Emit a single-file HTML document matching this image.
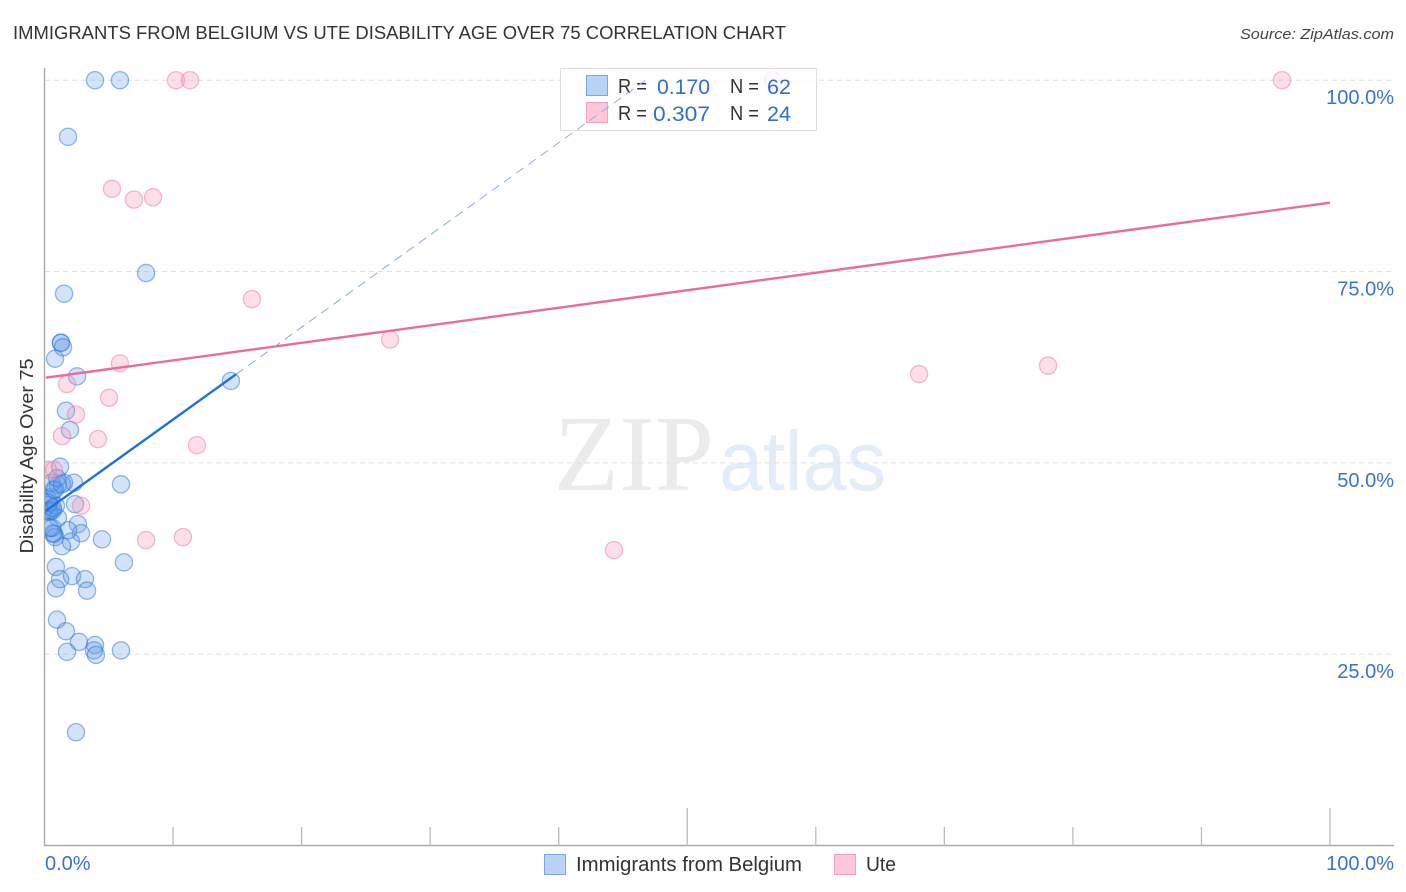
<!DOCTYPE html>
<html>
<head>
<meta charset="utf-8">
<title>Immigrants from Belgium vs Ute Disability Age Over 75 Correlation Chart</title>
<style>
html,body{margin:0;padding:0;background:#fff;}
svg{display:block;font-family:"Liberation Sans",sans-serif;}
</style>
</head>
<body>
<svg id="chart" width="1406" height="892" viewBox="0 0 1406 892" xmlns="http://www.w3.org/2000/svg">
  <defs><clipPath id="plot-clip"><rect x="45" y="0" width="1350" height="846"/></clipPath></defs>
  <text x="13" y="39" font-size="18.5" fill="#333" textLength="773" lengthAdjust="spacingAndGlyphs">IMMIGRANTS FROM BELGIUM VS UTE DISABILITY AGE OVER 75 CORRELATION CHART</text>
  <text x="1394" y="39" font-size="15" font-style="italic" fill="#444" text-anchor="end" textLength="154" lengthAdjust="spacingAndGlyphs">Source: ZipAtlas.com</text>
  <g>
    <text x="554" y="490" font-family="'Liberation Serif',serif" font-size="108" fill="#ebebeb" textLength="160" lengthAdjust="spacingAndGlyphs">ZIP</text>
    <text x="719" y="490" font-size="84" fill="#e3ecf9" textLength="167" lengthAdjust="spacingAndGlyphs">atlas</text>
  </g>
  <g id="grid"></g>
  <g id="axes"></g>
  <g id="points" clip-path="url(#plot-clip)"></g>
  <g id="trends"></g>
  <text transform="translate(33,456) rotate(-90)" font-size="18" fill="#333" text-anchor="middle" textLength="195" lengthAdjust="spacingAndGlyphs">Disability Age Over 75</text>
  <g>
    <rect x="560.5" y="68.5" width="256" height="62" fill="#fff" fill-opacity="0.8" stroke="#ddd" stroke-width="1"/>
    <rect x="586.5" y="75.5" width="21" height="20" fill="#b8d3f7" stroke="#7aa6e3"/>
    <rect x="586.5" y="102.5" width="21" height="20" fill="#fcc8d9" stroke="#f2a0bb"/>
    <g font-size="20">
      <text x="618" y="93" fill="#333" textLength="29" lengthAdjust="spacingAndGlyphs">R =</text>
      <text x="657" y="94" fill="#2f6fd0" font-size="21" textLength="53" lengthAdjust="spacingAndGlyphs">0.170</text>
      <text x="730" y="93" fill="#333" textLength="29" lengthAdjust="spacingAndGlyphs">N =</text>
      <text x="767" y="94" fill="#2f6fd0" font-size="21" textLength="24" lengthAdjust="spacingAndGlyphs">62</text>
      <text x="618" y="120" fill="#333" textLength="29" lengthAdjust="spacingAndGlyphs">R =</text>
      <text x="653" y="121" fill="#2f6fd0" font-size="21" textLength="57" lengthAdjust="spacingAndGlyphs">0.307</text>
      <text x="730" y="120" fill="#333" textLength="29" lengthAdjust="spacingAndGlyphs">N =</text>
      <text x="767" y="121" fill="#2f6fd0" font-size="21" textLength="24" lengthAdjust="spacingAndGlyphs">24</text>
    </g>
  </g>
  <g>
    <rect x="544.5" y="854.5" width="21" height="20" fill="#b8d3f7" stroke="#7aa6e3"/>
    <text x="576" y="871" font-size="20" fill="#333" textLength="226" lengthAdjust="spacingAndGlyphs">Immigrants from Belgium</text>
    <rect x="834.5" y="854.5" width="21" height="20" fill="#fcc8d9" stroke="#f2a0bb"/>
    <text x="866" y="871" font-size="20" fill="#333" textLength="30" lengthAdjust="spacingAndGlyphs">Ute</text>
  </g>
</svg>
<script>
const belgiumX = [3.93,5.87,1.83,7.9,1.52,1.28,1.28,1.44,0.82,2.53,14.5,1.67,1.98,1.21,2.29,5.95,2.37,2.6,2.84,4.47,6.18,0.89,1.21,2.14,3.15,0.89,3.31,0.97,1.67,2.68,3.93,3.85,4.0,5.95,1.75,2.45,2.06,1.36,1.83,0.74,0.82,0.66,0.35,0.5,0.3,0.5,0.66,0.4,0.3,0.89,1.05,0.6,0.4,1.52,1.05,0.7,0.82,0.55,0.97,1.36,0.3,0.66];
const belgiumY = [100,100,92.6,74.8,72.1,65.7,65.7,65.1,63.6,61.3,60.7,56.8,54.3,49.5,47.4,47.2,44.6,42.0,40.8,40.0,37.0,36.4,34.8,35.2,34.8,33.6,33.3,29.5,28.0,26.6,26.2,25.5,24.9,25.5,25.3,14.8,39.7,39.1,41.2,40.7,40.3,40.8,45.1,45.5,44.5,43.8,43.8,43.6,43.8,44.4,42.8,41.5,41.5,47.4,47.1,46.5,46.5,47.4,48.0,47.2,44.8,44.1];
const uteX = [10.23,11.32,56.67,96.27,5.25,6.96,8.44,16.14,26.88,5.87,1.75,5.02,2.45,1.36,4.16,11.86,68.03,78.07,0.27,0.74,2.84,7.9,10.77,44.3];
const uteY = [100,100,100,100,85.8,84.4,84.7,71.4,66.1,63.0,60.3,58.5,56.3,53.5,53.1,52.3,61.6,62.7,49.1,49.1,44.4,39.9,40.3,38.6];
const belgiumTrend = { intercept: 43.6, slope: 1.206, solidEnd: 14.9, dashEnd: 46.8, start: 0.1 };
const uteTrend = { intercept: 61.1, slope: 0.229, start: 0.1, end: 100 };
const yTicks = [25, 50, 75, 100];
const yTickLabels = ['25.0%', '50.0%', '75.0%', '100.0%'];
const xTicks = [0, 10, 20, 30, 40, 50, 60, 70, 80, 90, 100];
const xMajorTicks = [50, 100];
const xEndLabels = ['0.0%', '100.0%'];

const NS = 'http://www.w3.org/2000/svg';
const xScale = v => 44.5 + v * 12.855;
const yScale = v => 845.5 - v * 7.653;
function mk(parent, tag, attrs, text) {
  const el = document.createElementNS(NS, tag);
  for (const k in attrs) el.setAttribute(k, attrs[k]);
  if (text !== undefined) el.textContent = text;
  parent.appendChild(el);
  return el;
}
const grid = document.getElementById('grid');
const axes = document.getElementById('axes');
const points = document.getElementById('points');
const trends = document.getElementById('trends');
const svgRoot = document.getElementById('chart');

yTicks.forEach((t, i) => {
  const line = mk(grid, 'line', {x1: 45, x2: 1393, y1: yScale(t), y2: yScale(t), stroke: '#dfdfdf', 'stroke-width': 1, 'stroke-dasharray': '5 4'});
  
  
  const label = mk(axes, 'text', {x: 1394, y: yScale(t) + 24, 'text-anchor': 'end', 'font-size': 20, fill: '#3b73d1'}, yTickLabels[i]);
  
  
});

const yAxisLine = mk(axes, 'line', {x1: 44.5, x2: 44.5, y1: 68, y2: 846, stroke: '#aaa', 'stroke-width': 1.4});


const xAxisLine = mk(axes, 'line', {x1: 44, x2: 1394, y1: 845.5, y2: 845.5, stroke: '#aaa', 'stroke-width': 1.4});



xTicks.slice(1).forEach(t => {
  const top = xMajorTicks.includes(t) ? 808 : 827;
  const tick = mk(axes, 'line', {x1: xScale(t), x2: xScale(t), y1: top, y2: 846, stroke: '#bbb', 'stroke-width': 1.3});
  
  
});

const xLabelLeft = mk(axes, 'text', {x: 45, y: 870, 'font-size': 20, fill: '#3b73d1'}, xEndLabels[0]);


const xLabelRight = mk(axes, 'text', {x: 1394, y: 870, 'text-anchor': 'end', 'font-size': 20, fill: '#3b73d1'}, xEndLabels[1]);



belgiumX.forEach((x, i) => {
  const c = mk(points, 'circle', {cx: xScale(x), cy: yScale(belgiumY[i]), r: 8.6, fill: 'rgba(96,156,235,0.28)', stroke: 'rgba(38,115,220,0.5)', 'stroke-width': 1.3});
  
  
});
uteX.forEach((x, i) => {
  const c = mk(points, 'circle', {cx: xScale(x), cy: yScale(uteY[i]), r: 8.6, fill: 'rgba(245,150,180,0.3)', stroke: 'rgba(236,120,160,0.5)', 'stroke-width': 1.3});
  
  
});

const trendY = (tr, x) => yScale(tr.intercept + tr.slope * x);
const belgiumSolid = mk(trends, 'line', {x1: xScale(belgiumTrend.start), y1: trendY(belgiumTrend, belgiumTrend.start), x2: xScale(belgiumTrend.solidEnd), y2: trendY(belgiumTrend, belgiumTrend.solidEnd), stroke: '#1f72d8', 'stroke-width': 2.4});


const belgiumDash = mk(svgRoot, 'line', {x1: xScale(belgiumTrend.solidEnd), y1: trendY(belgiumTrend, belgiumTrend.solidEnd), x2: xScale(belgiumTrend.dashEnd), y2: trendY(belgiumTrend, belgiumTrend.dashEnd), stroke: '#8fabe0', 'stroke-width': 1, 'stroke-dasharray': '9 6'});


const uteLine = mk(trends, 'line', {x1: xScale(uteTrend.start), y1: trendY(uteTrend, uteTrend.start), x2: xScale(uteTrend.end), y2: trendY(uteTrend, uteTrend.end), stroke: '#ea6c9a', 'stroke-width': 2.4});


</script>
</body>
</html>
